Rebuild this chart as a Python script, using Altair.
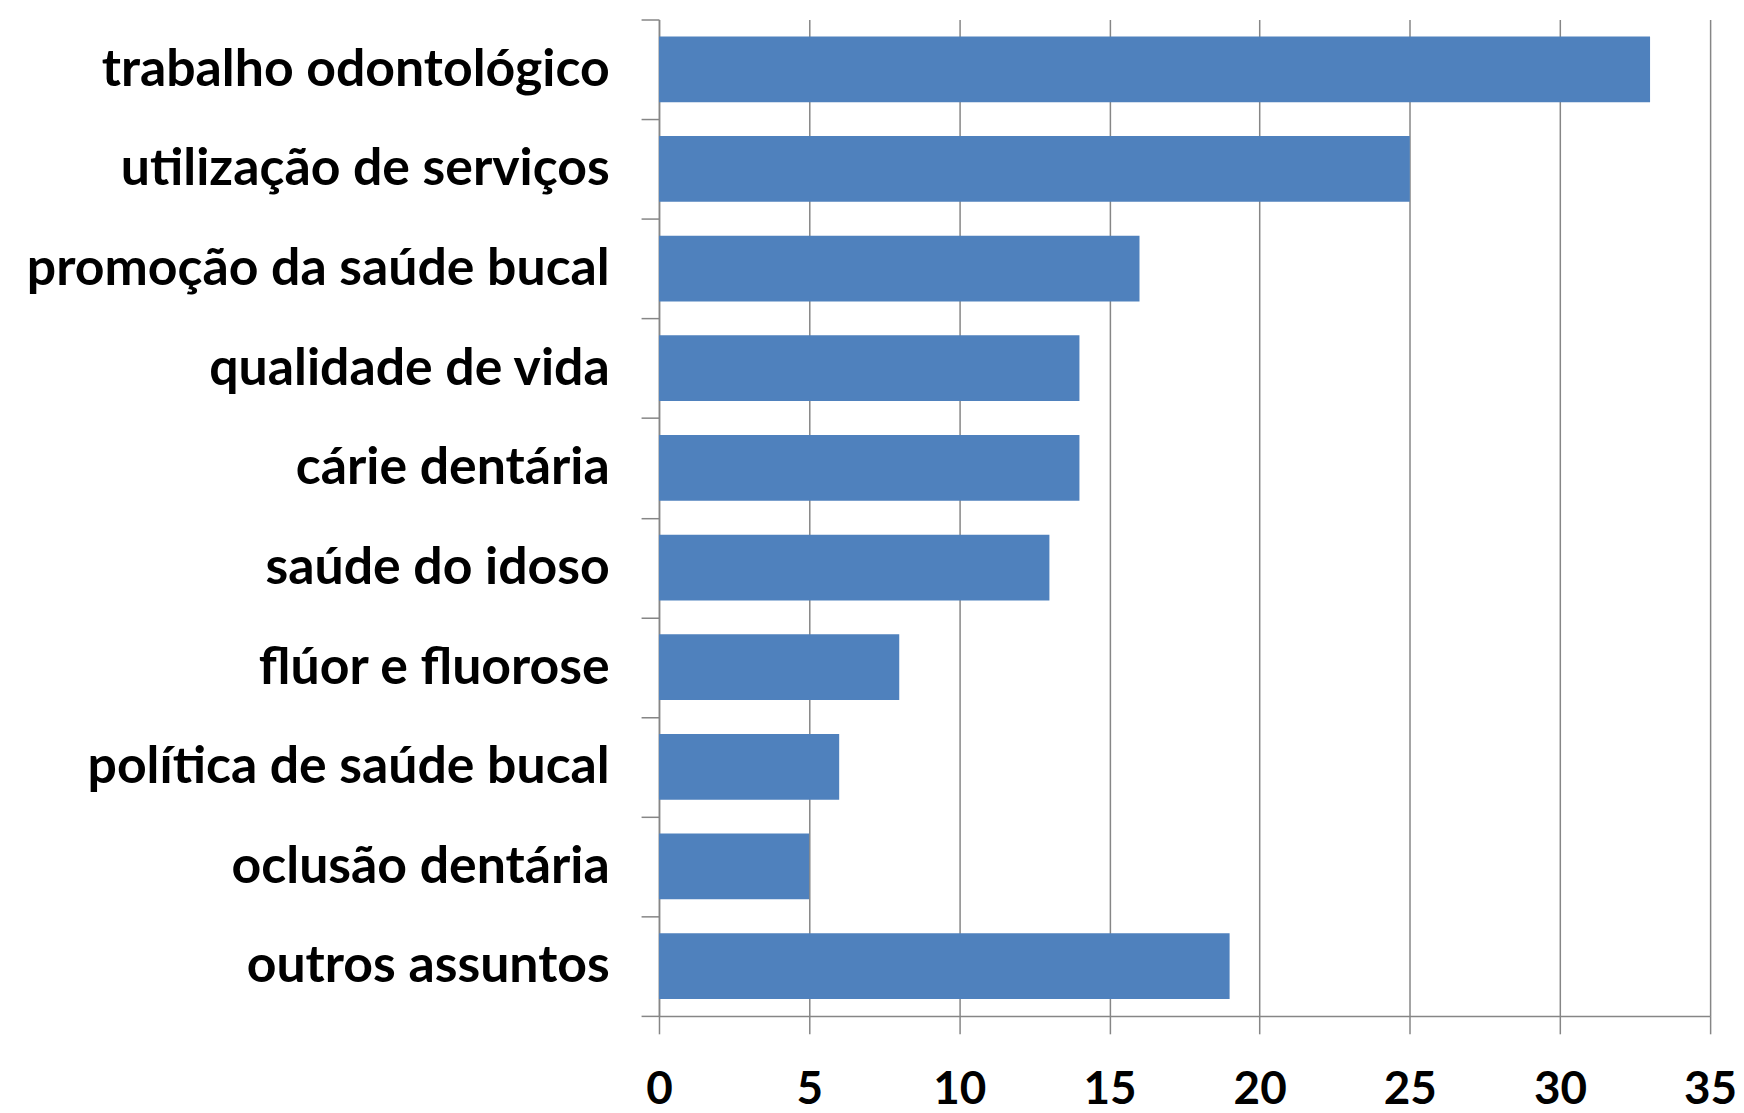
import altair as alt
import pandas as pd

categories = [
    "trabalho odontológico",
    "utilização de serviços",
    "promoção da saúde bucal",
    "qualidade de vida",
    "cárie dentária",
    "saúde do idoso",
    "flúor e fluorose",
    "política de saúde bucal",
    "oclusão dentária",
    "outros assuntos",
]
values = [33, 25, 16, 14, 14, 13, 8, 6, 5, 19]
x_ticks = [0, 5, 10, 15, 20, 25, 30, 35]

df = pd.DataFrame({"assunto": categories, "n": values})

FONT = "Lato"
GRAY = "#868686"

chart = (
    alt.Chart(df)
    .mark_bar(color="#4F81BD", height=alt.RelativeBandSize(0.66))
    .encode(
        y=alt.Y(
            "assunto:N",
            sort=categories,
            title=None,
            scale=alt.Scale(paddingInner=0, paddingOuter=0),
            axis=alt.Axis(
                tickBand="extent",
                tickSize=18,
                tickColor=GRAY,
                domainColor=GRAY,
                labelFont=FONT,
                labelFontWeight="bold",
                labelFontSize=52,
                labelColor="#000000",
                labelPadding=32,
                labelLimit=900,
                grid=False,
            ),
        ),
        x=alt.X(
            "n:Q",
            title=None,
            scale=alt.Scale(domain=[0, 35], nice=False),
            axis=alt.Axis(
                values=x_ticks,
                tickSize=18,
                tickColor=GRAY,
                domainColor=GRAY,
                grid=True,
                gridColor=GRAY,
                gridOpacity=1,
                labelFont=FONT,
                labelFontWeight="bold",
                labelFontSize=46,
                labelColor="#000000",
                labelPadding=34,
                labelFlush=False,
            ),
        ),
    )
    .properties(
        width=1056,
        height=1001,
        autosize=alt.AutoSizeParams(type="none"),
        padding={"left": 654, "top": 9, "right": 26, "bottom": 95},
    )
    .configure_view(stroke=None)
    .configure_axis(domainWidth=1.5, tickWidth=1.5, gridWidth=1.5)
)

chart.save("out.html", embed_options={"renderer": "svg", "actions": False})
